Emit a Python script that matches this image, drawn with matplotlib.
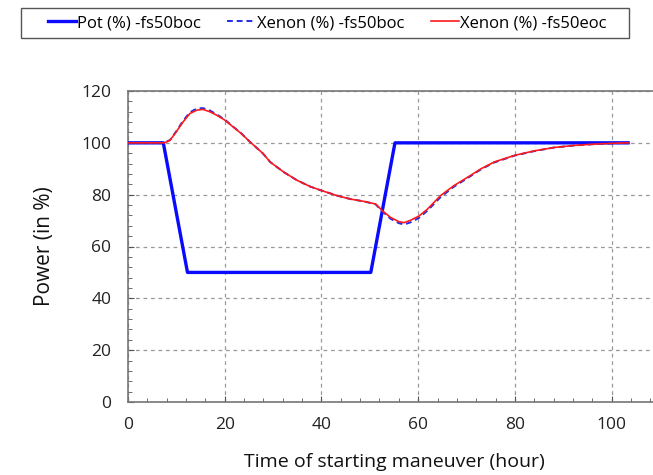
import matplotlib
matplotlib.use("Agg")
import matplotlib.pyplot as plt
from matplotlib.patches import Rectangle
from matplotlib.ticker import MultipleLocator

plt.rcParams['font.family'] = ['Open Sans', 'DejaVu Sans']

# power program (%)
pot_t = [0, 7.3, 12.3, 50.2, 55.2, 103.4]
pot_p = [100, 100, 50, 50, 100, 100]

# time points (hour)
xe_t = [0, 7.5, 8.7, 10.0, 11.4, 12.8, 14.2, 15.5, 16.9, 18.3, 20.0, 21.7, 23.4, 25.2,
        27.9, 29.4, 32.2, 35.0, 37.7, 40.0, 43.3, 46.0, 48.8, 51.2, 52.6, 54.3, 56.0,
        57.1, 58.4, 60.2, 61.9, 64.6, 67.4, 70.2, 73.0, 75.7, 80.0, 84.0, 88.1, 92.3,
        96.4, 100.0, 103.4]

# xenon response, begin of cycle
xe_boc = [100, 100, 101.1, 104.5, 108.5, 111.8, 113.2, 113.4, 112.5, 111.0, 109.0, 106.3,
          103.7, 100.4, 95.9, 92.6, 88.7, 85.5, 83.1, 81.6, 79.6, 78.3, 77.4, 76.3, 73.5,
          70.7, 69.0, 68.5, 69.3, 71.1, 73.8, 79.0, 83.1, 86.4, 89.8, 92.4, 95.1, 96.8,
          98.2, 99.0, 99.5, 99.8, 100]

# xenon response, end of cycle
xe_eoc = [100, 100, 101.0, 104.3, 108.1, 111.3, 112.6, 112.9, 112.0, 110.7, 108.8, 106.2,
          103.6, 100.4, 95.9, 92.6, 88.7, 85.5, 83.1, 81.6, 79.6, 78.3, 77.4, 76.4, 73.8,
          71.2, 69.6, 69.2, 70.1, 71.8, 74.4, 79.6, 83.5, 86.7, 90.0, 92.6, 95.2, 96.9,
          98.2, 99.0, 99.5, 99.8, 100]

fig = plt.figure(figsize=(6.53, 4.75), dpi=100)
ax = fig.add_axes([128 / 653, 73 / 475, 532 / 653, 311 / 475])

ax.plot(pot_t, pot_p, color='#0a0aff', lw=2.4, label='Pot (%) -fs50boc', zorder=3)
ax.plot(xe_t, xe_boc, color='#1f2ee8', lw=1.4, ls=(0, (3, 2)), label='Xenon (%) -fs50boc', zorder=4)
ax.plot(xe_t, xe_eoc, color='#ff1a1a', lw=1.2, label='Xenon (%) -fs50eoc', zorder=5)

ax.set_xlim(0, 110)
ax.set_ylim(0, 120)
ax.xaxis.set_major_locator(MultipleLocator(20))
ax.xaxis.set_minor_locator(MultipleLocator(4))
ax.yaxis.set_major_locator(MultipleLocator(20))
ax.yaxis.set_minor_locator(MultipleLocator(4))
ax.tick_params(which='both', direction='in', color='#555555', labelsize=12.5, labelcolor='#222222')
ax.tick_params(which='major', length=4)
ax.tick_params(which='minor', length=3)
ax.tick_params(axis='x', pad=11)
ax.tick_params(axis='y', pad=12)

ax.grid(True, which='major', ls=(0, (3, 3)), color='#999999', lw=0.9)
for s in ax.spines.values():
    s.set_color('#777777')
    s.set_linewidth(1.2)

ax.set_xlabel('Time of starting maneuver (hour)', fontsize=14, labelpad=14, color='#111111')
ax.set_ylabel('Power (in %)', fontsize=15, labelpad=19, color='#111111')

# legend entries without their own frame; the box is drawn separately
fig.legend(loc='center', bbox_to_anchor=(327 / 653, 1 - 23 / 475), ncol=3,
           frameon=False, fontsize=12, handlelength=1.7,
           handletextpad=0.05, borderpad=0.3, columnspacing=1.6)
fig.patches.append(Rectangle((21 / 653, 1 - 38 / 475), 608 / 653, 30 / 475,
                             transform=fig.transFigure, fill=False,
                             edgecolor='#555555', linewidth=1.0))

fig.savefig('out.png', dpi=100)
